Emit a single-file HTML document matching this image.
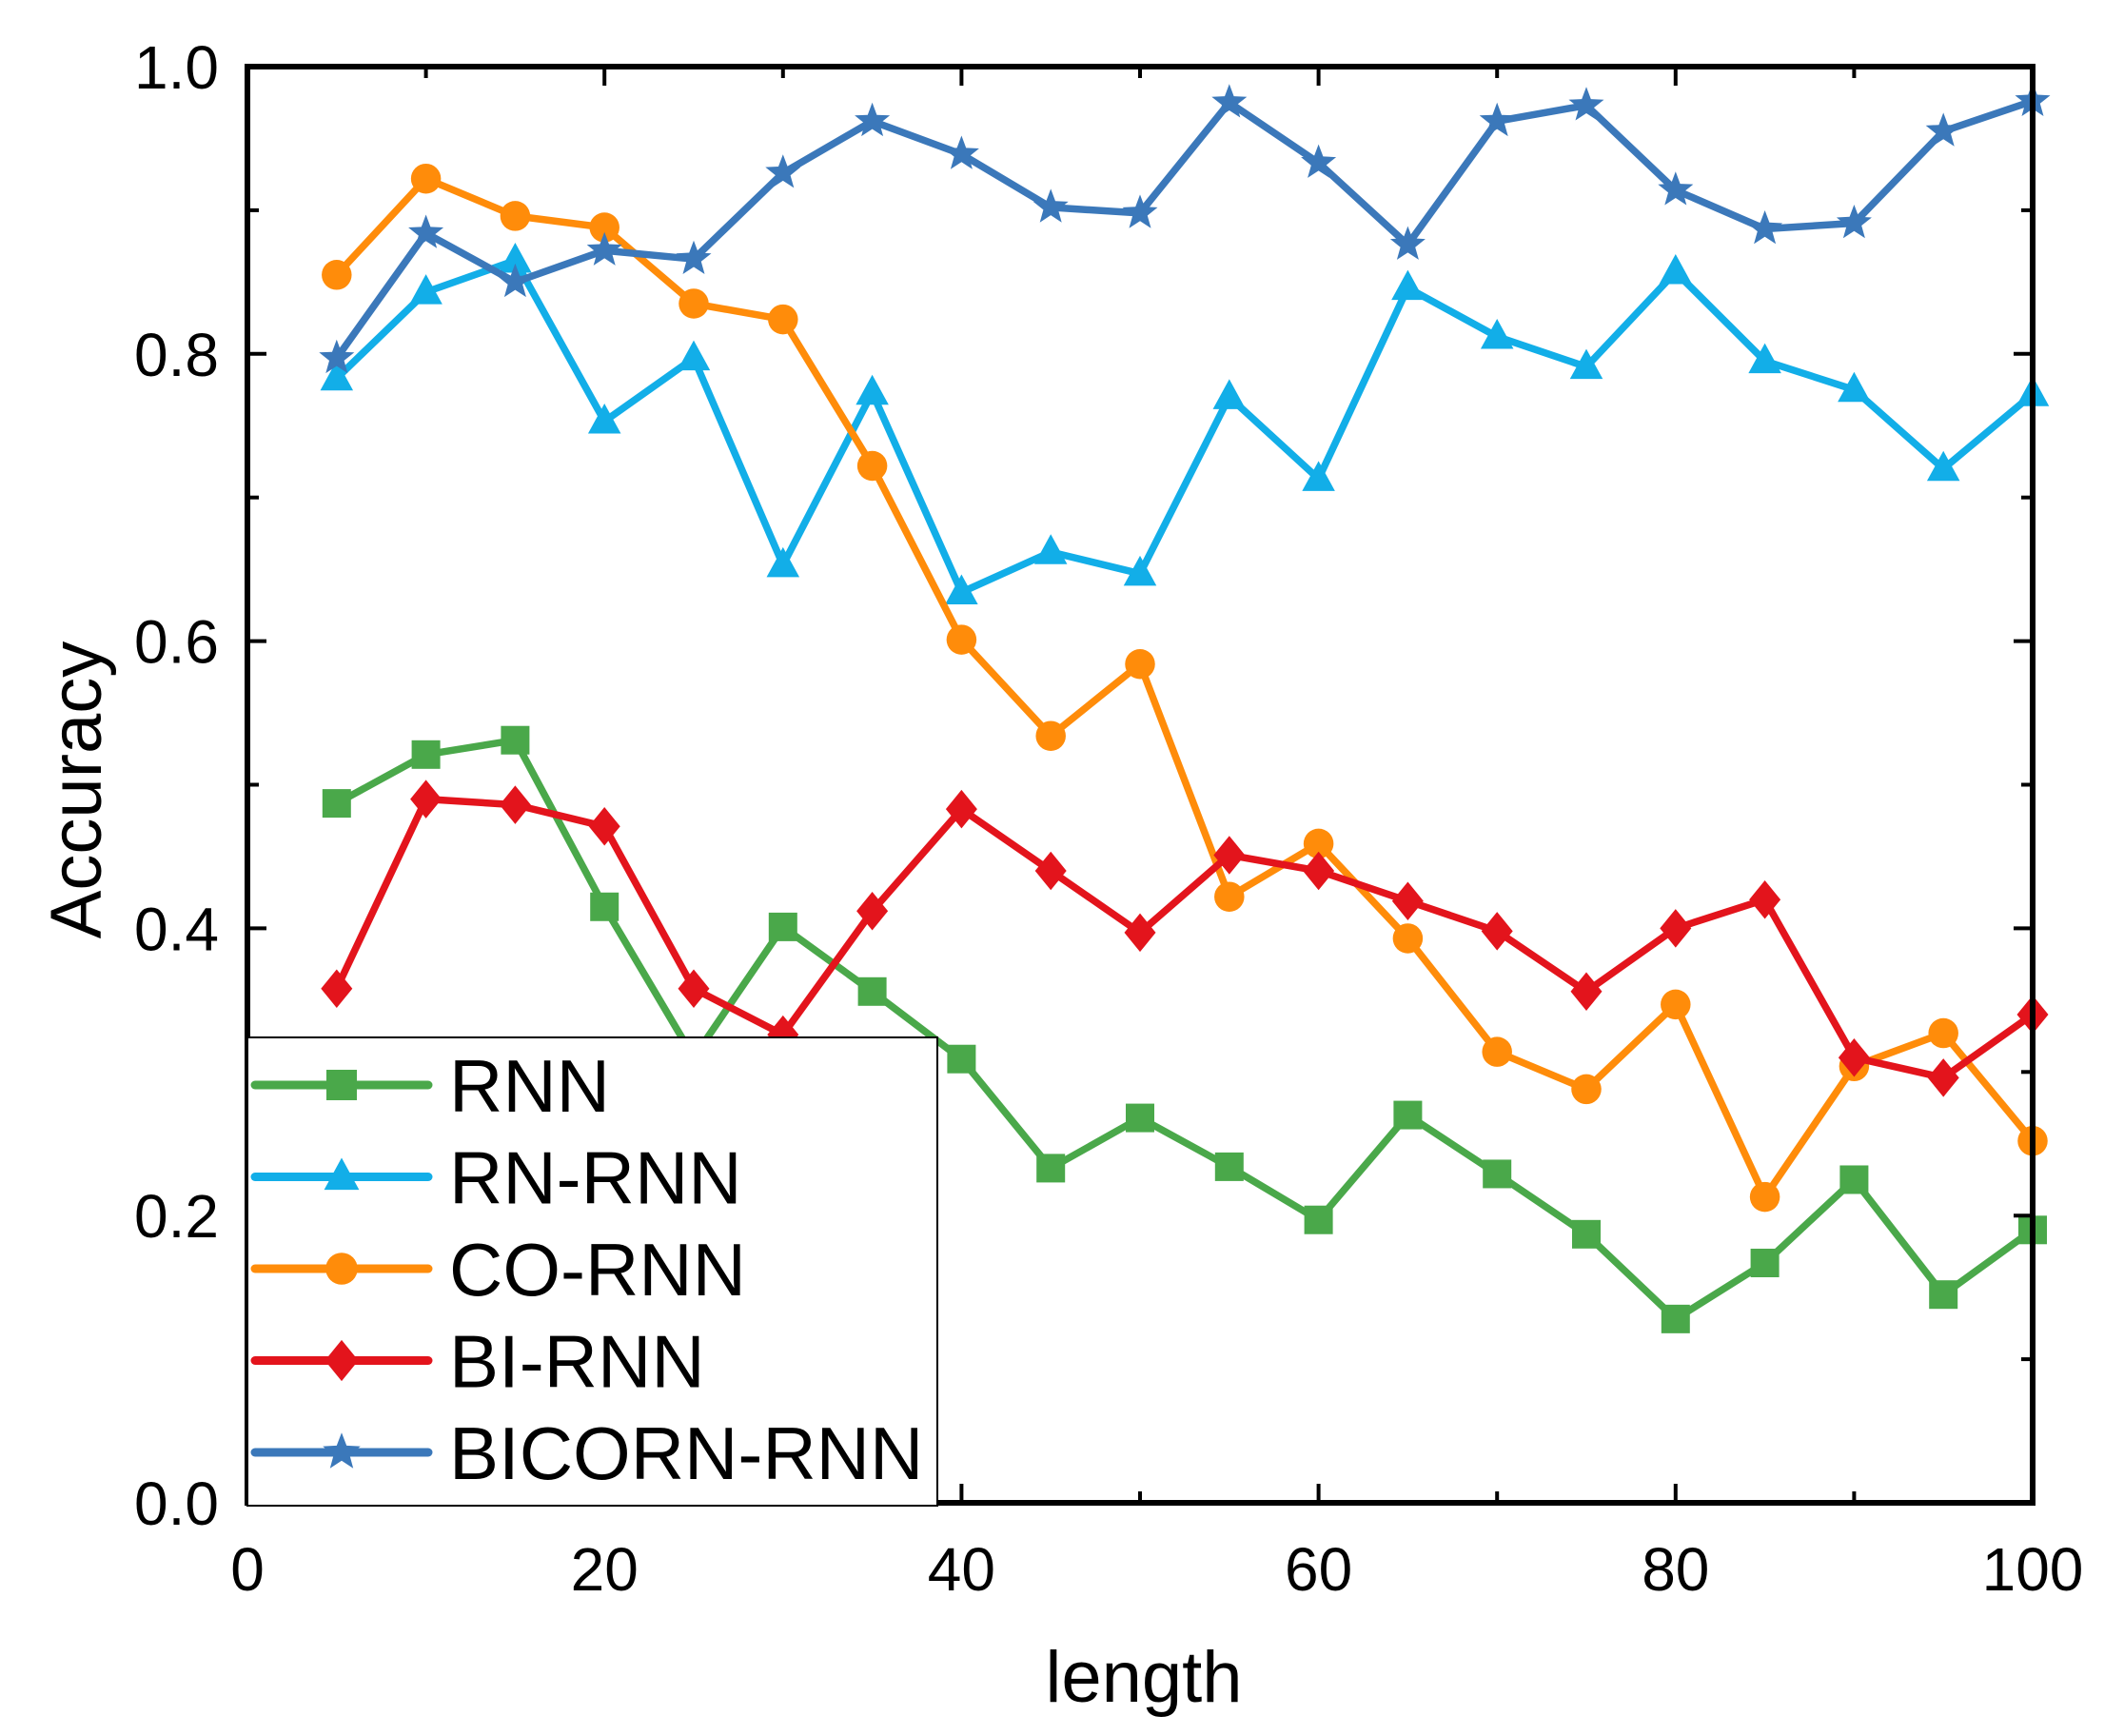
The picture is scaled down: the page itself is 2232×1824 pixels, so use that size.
<!DOCTYPE html>
<html><head><meta charset="utf-8"><style>
html,body{margin:0;padding:0;background:#fff;}
svg{display:block;font-family:"Liberation Sans",Arial,sans-serif;}
</style></head><body>
<svg id="chart" width="2232" height="1824" viewBox="0 0 2232 1824" xmlns="http://www.w3.org/2000/svg">
<rect width="2232" height="1824" fill="#fff"/>
<g id="series"></g>
<g id="axes"></g>
<g id="legend"></g>
</svg>
<script>
const lengths=[5,10,15,20,25,30,35,40,45,50,55,60,65,70,75,80,85,90,95,100];
const rnn=[0.487,0.521,0.531,0.415,0.31,0.401,0.356,0.309,0.233,0.268,0.234,0.197,0.27,0.229,0.187,0.128,0.167,0.225,0.145,0.19];
const rnRnn=[0.783,0.843,0.865,0.753,0.797,0.653,0.773,0.634,0.662,0.647,0.77,0.713,0.846,0.812,0.791,0.857,0.795,0.775,0.72,0.772];
const coRnn=[0.855,0.922,0.896,0.888,0.835,0.824,0.722,0.601,0.534,0.584,0.422,0.459,0.393,0.314,0.288,0.347,0.213,0.304,0.327,0.252];
const biRnn=[0.358,0.49,0.486,0.471,0.358,0.326,0.412,0.483,0.44,0.397,0.451,0.44,0.419,0.398,0.356,0.4,0.42,0.31,0.296,0.34];
const bicornRnn=[0.797,0.884,0.85,0.872,0.866,0.926,0.962,0.939,0.902,0.898,0.975,0.933,0.876,0.962,0.973,0.914,0.887,0.891,0.955,0.976];
const xTicks=[0,20,40,60,80,100];
const yTicks=[0.0,0.2,0.4,0.6,0.8,1.0];
const yTickLabels=["0.0","0.2","0.4","0.6","0.8","1.0"];

const NS="http://www.w3.org/2000/svg";
const L=260,R=2136,T=70,B=1579;
function xs(v){return L+(v-0)/(100-0)*(R-L);}
function ys(v){return B-(v-0)/(1-0)*(B-T);}
function mk(tag,attrs,parent){const e=document.createElementNS(NS,tag);for(const k in attrs)e.setAttribute(k,attrs[k]);parent.appendChild(e);return e;}

const seriesG=document.getElementById('series');
const axesG=document.getElementById('axes');
const legG=document.getElementById('legend');

function marker(shape,cx,cy,color,parent,s){
  let e;
  if(shape==='square'){e=mk('rect',{x:cx-s,y:cy-s,width:2*s,height:2*s,fill:color},parent);}
  else if(shape==='triangle'){e=mk('polygon',{points:`${cx},${cy-s*1.25} ${cx+s*1.15},${cy+s*0.85} ${cx-s*1.15},${cy+s*0.85}`,fill:color},parent);}
  else if(shape==='circle'){e=mk('circle',{cx:cx,cy:cy,r:s*1.05,fill:color},parent);}
  else if(shape==='diamond'){e=mk('polygon',{points:`${cx},${cy-s*1.35} ${cx+s*1.1},${cy} ${cx},${cy+s*1.35} ${cx-s*1.1},${cy}`,fill:color},parent);}
  else {let p=[];for(let i=0;i<10;i++){const a=-Math.PI/2+i*Math.PI/5;const r=i%2?s*0.55:s*1.3;p.push((cx+r*Math.cos(a)).toFixed(1)+','+(cy+r*Math.sin(a)).toFixed(1));}
    e=mk('polygon',{points:p.join(' '),fill:color},parent);}
  return e;
}

const series=[
 {name:'RNN',key:'rnn',vals:rnn,color:'#4aa84a',shape:'square'},
 {name:'RN-RNN',key:'rn-rnn',vals:rnRnn,color:'#12aee8',shape:'triangle'},
 {name:'CO-RNN',key:'co-rnn',vals:coRnn,color:'#ff8c0a',shape:'circle'},
 {name:'BI-RNN',key:'bi-rnn',vals:biRnn,color:'#e3141c',shape:'diamond'},
 {name:'BICORN-RNN',key:'bicorn-rnn',vals:bicornRnn,color:'#3b78ba',shape:'star'}
];

series.forEach(s=>{
  const g=mk('g',{},seriesG);
  
  
  const pts=s.vals.map((v,i)=>xs(lengths[i]).toFixed(1)+','+ys(v).toFixed(1)).join(' ');
  const pl=mk('polyline',{points:pts,fill:'none',stroke:s.color,'stroke-width':7.5,'stroke-linejoin':'round'},g);
  
  
  s.vals.forEach((v,i)=>{
    const m=marker(s.shape,xs(lengths[i]),ys(v),s.color,g,15);
    
    
  });
});

// legend
const lb=mk('rect',{x:260,y:1090,width:725,height:492,fill:'#fff',stroke:'#000','stroke-width':2},legG);


series.forEach((s,i)=>{
  const y=1140+i*96.5;
  const g=mk('g',{},legG);
  
  
  mk('line',{x1:268,y1:y,x2:450,y2:y,stroke:s.color,'stroke-width':9,'stroke-linecap':'round'},g);
  marker(s.shape,359,y,s.color,g,16);
  const t=mk('text',{x:472,y:y+28,'font-size':78,fill:'#000'},g);
  t.textContent=s.name;
});

// frame
const fr=mk('rect',{x:L,y:T,width:R-L,height:B-T,fill:'none',stroke:'#000','stroke-width':6},axesG);



// y ticks
yTicks.forEach((v,i)=>{
  const y=ys(v);
  mk('line',{x1:L,y1:y,x2:L+20,y2:y,stroke:'#000','stroke-width':4},axesG);
  mk('line',{x1:R,y1:y,x2:R-20,y2:y,stroke:'#000','stroke-width':4},axesG);
  if(i<yTicks.length-1){const ym=ys(v+0.1);
    mk('line',{x1:L,y1:ym,x2:L+12,y2:ym,stroke:'#000','stroke-width':4},axesG);
    mk('line',{x1:R,y1:ym,x2:R-12,y2:ym,stroke:'#000','stroke-width':4},axesG);}
  const t=mk('text',{x:230,y:y+23,'font-size':64,'text-anchor':'end',fill:'#000'},axesG);
  
  
  t.textContent=yTickLabels[i];
});
// x ticks
xTicks.forEach((v,i)=>{
  const x=xs(v);
  mk('line',{x1:x,y1:B,x2:x,y2:B-20,stroke:'#000','stroke-width':4},axesG);
  mk('line',{x1:x,y1:T,x2:x,y2:T+20,stroke:'#000','stroke-width':4},axesG);
  if(i<xTicks.length-1){const xm=xs(v+10);
    mk('line',{x1:xm,y1:B,x2:xm,y2:B-12,stroke:'#000','stroke-width':4},axesG);
    mk('line',{x1:xm,y1:T,x2:xm,y2:T+12,stroke:'#000','stroke-width':4},axesG);}
  const t=mk('text',{x:x,y:1671,'font-size':64,'text-anchor':'middle',fill:'#000'},axesG);
  
  
  t.textContent=v;
});
const xt=mk('text',{x:1202,y:1788,'font-size':76,'text-anchor':'middle',fill:'#000'},axesG);


xt.textContent='length';
const yt=mk('text',{x:0,y:0,'font-size':76,'text-anchor':'middle',fill:'#000',transform:'translate(106,830) rotate(-90)'},axesG);


yt.textContent='Accuracy';
</script>
</body></html>
